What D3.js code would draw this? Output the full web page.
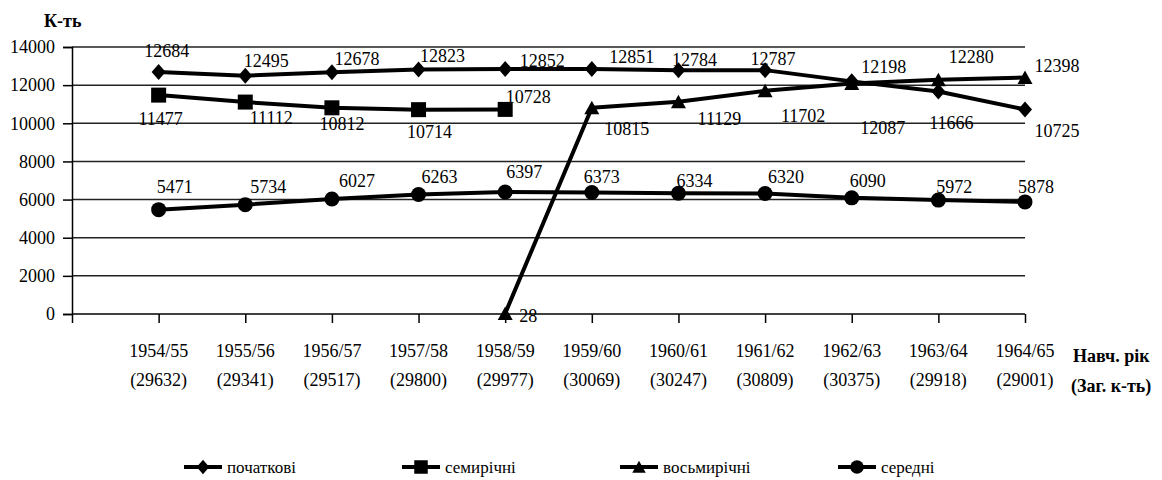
<!DOCTYPE html>
<html>
<head>
<meta charset="utf-8">
<script src="https://cdn.jsdelivr.net/npm/d3@7"></script>
<style>
    body { margin: 0; background: #fff; }
</style>
</head>
<body>
<svg id="chart" width="1162" height="480" font-family="'Liberation Serif', 'DejaVu Serif', serif"></svg>
<script>
const YEARS = ["1954/55", "1955/56", "1956/57", "1957/58", "1958/59", "1959/60",
    "1960/61", "1961/62", "1962/63", "1963/64", "1964/65"];
const TOTALS = ["29632", "29341", "29517", "29800", "29977", "30069",
    "30247", "30809", "30375", "29918", "29001"];
const Y_TICKS = [0, 2000, 4000, 6000, 8000, 10000, 12000, 14000];

const SERIES_NAMES = ["початкові", "семирічні", "восьмирічні", "середні"];
const PRIMARY = [12684, 12495, 12678, 12823, 12852, 12851, 12784, 12787, 12198, 11666, 10725];
const SEVEN_YEAR = [11477, 11112, 10812, 10714, 10728, null, null, null, null, null, null];
const EIGHT_YEAR = [null, null, null, null, 28, 10815, 11129, 11702, 12087, 12280, 12398];
const SECONDARY = [5471, 5734, 6027, 6263, 6397, 6373, 6334, 6320, 6090, 5972, 5878];

// label offsets (dx, dy from the point) so the numbers sit like in the original
const LABEL_OFFSETS = [
    [[8, -15], [21, -9], [25, -7], [24, -7], [37, -2], [40, -6], [16, -4], [8, -5], [32, -8], [13, 37], [32, 28]],
    [[2, 30], [26, 22], [10, 22], [11, 28], [23, -6]],
    [null, null, null, null, [23, 9], [35, 27], [41, 23], [38, 31], [31, 51], [33, -17], [32, -6]],
    [[16, -17], [23, -12], [25, -12], [21, -12], [19, -14], [10, -9], [16, -6], [21, -10], [16, -11], [16, -7], [11, -9]],
];

const series = [PRIMARY, SEVEN_YEAR, EIGHT_YEAR, SECONDARY];
const SERIF = "Liberation Serif";

const svg = d3.select("#chart");
const PLOT_L = 72, PLOT_R = 1025, PLOT_T = 47, PLOT_B = 314;

const x = d3.scalePoint().domain(["", ...YEARS]).range([PLOT_L, PLOT_R]);
const y = d3.scaleLinear().domain([0, 14000]).range([PLOT_B, PLOT_T]);

// markers drawn around 0,0
const markers = [
    (g, s) => g.append("path").attr("d", `M0,${-8 * s}L${7 * s},0L0,${8 * s}L${-7 * s},0Z`),
    (g, s) => g.append("rect").attr("x", -7.5 * s).attr("y", -7.5 * s).attr("width", 15 * s).attr("height", 15 * s),
    (g, s) => g.append("path").attr("d", `M0,${-7 * s}L${7.5 * s},${6.5 * s}L${-7.5 * s},${6.5 * s}Z`),
    (g, s) => g.append("circle").attr("r", 7.5 * s),
];

// gridlines
svg.append("g")
    .selectAll("line")
    .data(Y_TICKS.slice(1))
    .join("line")
    .attr("x1", PLOT_L).attr("x2", PLOT_R)
    .attr("y1", (d) => y(d)).attr("y2", (d) => y(d))
    .attr("stroke", "#222").attr("stroke-width", 1.5);

// y axis
const yAxis = svg.append("g")
    .attr("transform", `translate(${PLOT_L},0)`)
    .call(d3.axisLeft(y).tickValues(Y_TICKS).tickSize(9).tickPadding(8).tickFormat(d3.format("d")));
yAxis.attr("font-family", SERIF).attr("font-size", 18);
yAxis.select(".domain").attr("stroke", "#000").attr("stroke-width", 1.5);
yAxis.selectAll(".tick line").attr("stroke", "#000").attr("stroke-width", 1.5);

// x axis
const xAxis = svg.append("g")
    .attr("transform", `translate(0,${PLOT_B})`)
    .call(d3.axisBottom(x).tickSize(9).tickSizeOuter(0).tickFormat(() => ""));
xAxis.select(".domain").attr("stroke", "#000").attr("stroke-width", 1.5).attr("d", `M${PLOT_L},0H${PLOT_R}`);
xAxis.selectAll(".tick line").attr("stroke", "#000").attr("stroke-width", 1.5);

const xl = svg.append("g").attr("font-family", SERIF).attr("font-size", 18).attr("text-anchor", "middle");
YEARS.forEach((yr, i) => {
    xl.append("text").attr("x", x(yr)).attr("y", 357).text(yr);
    xl.append("text").attr("x", x(yr)).attr("y", 386).text(`(${TOTALS[i]})`);
});

// axis titles
const titles = svg.append("g").attr("font-family", SERIF).attr("font-size", 18).attr("font-weight", "bold");
titles.append("text").attr("x", 44).attr("y", 27).text("К-ть");
titles.append("text").attr("x", 1073).attr("y", 362).text("Навч. рік");
titles.append("text").attr("x", 1071).attr("y", 392).text("(Заг. к-ть)");

// lines, markers, labels
const line = d3.line()
    .defined((d) => d != null)
    .x((_, i) => x(YEARS[i]))
    .y((d) => y(d));

series.forEach((vals, si) => {
    const g = svg.append("g").attr("class", "series");
    g.append("path")
        .attr("d", line(vals))
        .attr("fill", "none")
        .attr("stroke", "#000")
        .attr("stroke-width", 4)
        .attr("stroke-linejoin", "round");

    vals.forEach((v, i) => {
        if (v == null) return;
        const m = g.append("g").attr("transform", `translate(${x(YEARS[i])},${y(v)})`).attr("fill", "#000");
        markers[si](m, 1);
    });

    const lbl = g.append("g").attr("font-family", SERIF).attr("font-size", 18).attr("text-anchor", "middle");
    vals.forEach((v, i) => {
        if (v == null) return;
        const off = LABEL_OFFSETS[si][i] || [15, -10];
        lbl.append("text")
            .attr("x", x(YEARS[i]) + off[0])
            .attr("y", y(v) + off[1])
            .text(v);
    });
});

// legend
const legend = svg.append("g").attr("font-family", SERIF).attr("font-size", 17);
SERIES_NAMES.forEach((name, i) => {
    const cx = 203 + i * 218;
    const lg = legend.append("g").attr("transform", `translate(${cx},467)`);
    lg.append("line").attr("x1", -19).attr("x2", 19).attr("stroke", "#000").attr("stroke-width", 4);
    markers[i](lg.append("g").attr("fill", "#000"), 0.9);
    lg.append("text").attr("x", 24).attr("y", 6).text(name);
});
</script>
</body>
</html>
